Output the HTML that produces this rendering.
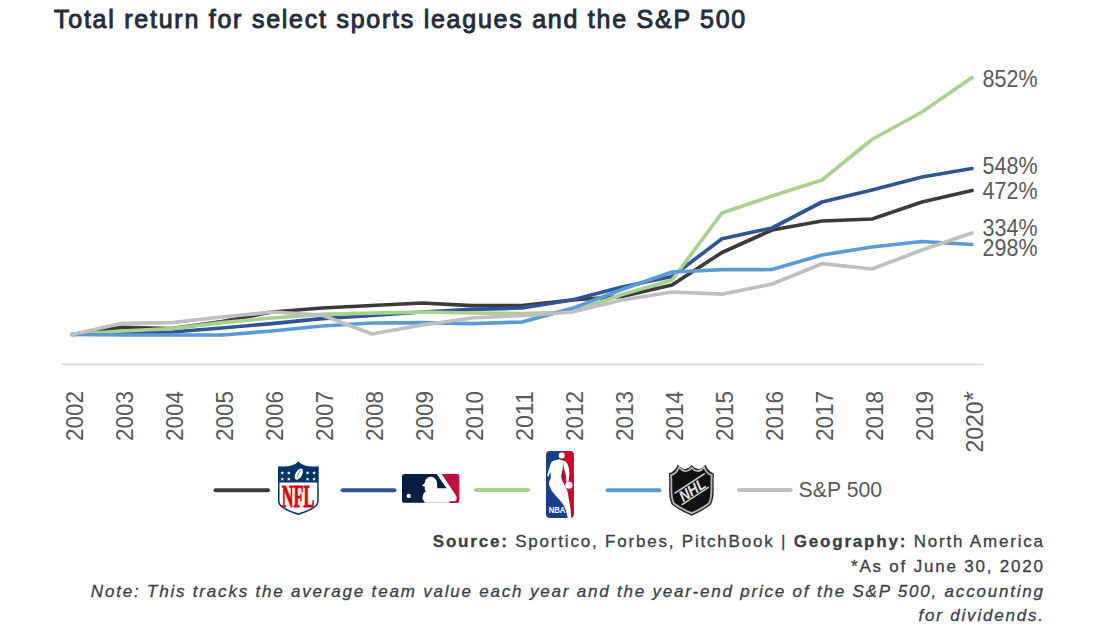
<!DOCTYPE html>
<html><head><meta charset="utf-8"><style>
html,body{margin:0;padding:0;background:#fff;}
body{width:1115px;height:630px;position:relative;overflow:hidden;font-family:"Liberation Sans",sans-serif;}
.title{position:absolute;left:54px;top:4.5px;font-size:25px;font-weight:normal;-webkit-text-stroke:0.95px #252d3b;color:#252d3b;white-space:nowrap;letter-spacing:1.75px;}
.foot{position:absolute;right:70.2px;font-size:17px;color:#3a3f48;-webkit-text-stroke:0.3px #3a3f48;white-space:nowrap;text-align:right;letter-spacing:1.8px;}
svg{position:absolute;left:0;top:0;}
</style></head><body>
<div class="title">Total return for select sports leagues and the S&amp;P 500</div>
<svg width="1115" height="630" viewBox="0 0 1115 630">
<line x1="62" y1="364.4" x2="983.5" y2="364.4" stroke="#d9d9d9" stroke-width="1.6"/>
<g fill="none" stroke-width="3.7" stroke-linejoin="round" stroke-linecap="round">
<polyline points="72,334.5 122,327.4 172,328.5 222,321.5 272,312 322,308 372,305.5 422,303 472,305.7 522,305.7 572,300 622,296.5 672,285 722,252.5 772,230 822,221 872,219 922,202 972,190.5" stroke="#3b3b3b"/>
<polyline points="72,334.5 122,333 172,332 222,328 272,323.6 322,318.6 372,315.5 422,312 472,309.3 522,308 572,300 622,287 672,276.5 722,238.7 772,228 822,202 872,190 922,177 972,168.5" stroke="#2f5597"/>
<polyline points="72,334.5 122,331 172,328.6 222,322.7 272,318 322,314.4 372,313.2 422,312 472,313 522,313.5 572,312 622,294.5 672,280 722,213 772,196 822,180 872,139.5 922,112 972,77.5" stroke="#a9d18e"/>
<polyline points="72,334.5 122,335 172,335 222,335 272,331 322,326 372,323 422,322.7 472,323.7 522,322 572,308.4 622,289.5 672,272 722,269.7 772,269.5 822,255 872,247 922,241.5 972,244.5" stroke="#5b9bd5"/>
<polyline points="72,334.5 122,323.3 172,322.7 222,317 272,312 322,315 372,334 422,325 472,318 522,315.6 572,312 622,300 672,292 722,294.2 772,284 822,263.7 872,269 922,250 972,233" stroke="#bfbfbf"/>
</g>
<g font-family="Liberation Sans" font-size="23" fill="#595959">
<text x="982.5" y="86.6" textLength="55" lengthAdjust="spacingAndGlyphs">852%</text>
<text x="982.5" y="174.4" textLength="55" lengthAdjust="spacingAndGlyphs">548%</text>
<text x="982.5" y="199.1" textLength="55" lengthAdjust="spacingAndGlyphs">472%</text>
<text x="982.5" y="235.7" textLength="55" lengthAdjust="spacingAndGlyphs">334%</text>
<text x="982.5" y="256.3" textLength="55" lengthAdjust="spacingAndGlyphs">298%</text>
<text transform="translate(82.8,391) rotate(-90)" text-anchor="end" textLength="50" lengthAdjust="spacingAndGlyphs">2002</text><text transform="translate(132.8,391) rotate(-90)" text-anchor="end" textLength="50" lengthAdjust="spacingAndGlyphs">2003</text><text transform="translate(182.8,391) rotate(-90)" text-anchor="end" textLength="50" lengthAdjust="spacingAndGlyphs">2004</text><text transform="translate(232.8,391) rotate(-90)" text-anchor="end" textLength="50" lengthAdjust="spacingAndGlyphs">2005</text><text transform="translate(282.8,391) rotate(-90)" text-anchor="end" textLength="50" lengthAdjust="spacingAndGlyphs">2006</text><text transform="translate(332.8,391) rotate(-90)" text-anchor="end" textLength="50" lengthAdjust="spacingAndGlyphs">2007</text><text transform="translate(382.8,391) rotate(-90)" text-anchor="end" textLength="50" lengthAdjust="spacingAndGlyphs">2008</text><text transform="translate(432.8,391) rotate(-90)" text-anchor="end" textLength="50" lengthAdjust="spacingAndGlyphs">2009</text><text transform="translate(482.8,391) rotate(-90)" text-anchor="end" textLength="50" lengthAdjust="spacingAndGlyphs">2010</text><text transform="translate(532.8,391) rotate(-90)" text-anchor="end" textLength="50" lengthAdjust="spacingAndGlyphs">2011</text><text transform="translate(582.8,391) rotate(-90)" text-anchor="end" textLength="50" lengthAdjust="spacingAndGlyphs">2012</text><text transform="translate(632.8,391) rotate(-90)" text-anchor="end" textLength="50" lengthAdjust="spacingAndGlyphs">2013</text><text transform="translate(682.8,391) rotate(-90)" text-anchor="end" textLength="50" lengthAdjust="spacingAndGlyphs">2014</text><text transform="translate(732.8,391) rotate(-90)" text-anchor="end" textLength="50" lengthAdjust="spacingAndGlyphs">2015</text><text transform="translate(782.8,391) rotate(-90)" text-anchor="end" textLength="50" lengthAdjust="spacingAndGlyphs">2016</text><text transform="translate(832.8,391) rotate(-90)" text-anchor="end" textLength="50" lengthAdjust="spacingAndGlyphs">2017</text><text transform="translate(882.8,391) rotate(-90)" text-anchor="end" textLength="50" lengthAdjust="spacingAndGlyphs">2018</text><text transform="translate(932.8,391) rotate(-90)" text-anchor="end" textLength="50" lengthAdjust="spacingAndGlyphs">2019</text><text transform="translate(982.8,452.5) rotate(-90)">2020<tspan font-size="26" dy="-1">*</tspan></text>
<text x="798.6" y="496.8" font-size="22" textLength="83.5" lengthAdjust="spacingAndGlyphs">S&amp;P 500</text>
</g>
<g stroke-width="4" stroke-linecap="round">
<line x1="215.5" y1="490.2" x2="268" y2="490.2" stroke="#3b3b3b"/>
<line x1="342.5" y1="490.2" x2="394.5" y2="490.2" stroke="#2f5597"/>
<line x1="476" y1="490" x2="528" y2="490" stroke="#a9d18e"/>
<line x1="607.5" y1="490.2" x2="659.5" y2="490.2" stroke="#5b9bd5"/>
<line x1="739" y1="490" x2="790.5" y2="490" stroke="#bfbfbf"/>
</g>
<!--LOGOS-->
<defs>
<path id="nhlS" d="M0,8.8 Q6,7.5 9,0 Q16,8.5 22.9,0.7 Q29.8,8.5 36.7,0 Q39.5,7.5 45.2,8.8 C43.8,20 46.8,31 42.2,40 Q34,46.5 22.9,51.1 Q11.5,46.5 3,40 C-1.6,31 1.4,20 0,8.8 Z"/>
<clipPath id="nhlC"><use href="#nhlS" transform="translate(22.6,25.5) scale(0.8) translate(-22.6,-25.5)"/></clipPath>
</defs>
<!-- NFL -->
<g transform="translate(278,461.5)">
<path d="M0,4.7 Q14,6.5 20.3,0 Q26.6,6.5 40.7,4.7 L40.7,40 Q40.5,47.5 20.3,53.5 Q0.2,47.5 0,40 Z" fill="#013369"/>
<path d="M1.5,21 H39.2 V39.8 Q39,46.3 20.3,51.8 Q1.7,46.3 1.5,39.8 Z" fill="#ffffff"/>
<g fill="#ffffff"><polygon points="4.30,9.50 4.83,10.77 6.20,10.88 5.16,11.78 5.48,13.12 4.30,12.40 3.12,13.12 3.44,11.78 2.40,10.88 3.77,10.77"/><polygon points="4.30,15.70 4.83,16.97 6.20,17.08 5.16,17.98 5.48,19.32 4.30,18.60 3.12,19.32 3.44,17.98 2.40,17.08 3.77,16.97"/><polygon points="10.80,9.50 11.33,10.77 12.70,10.88 11.66,11.78 11.98,13.12 10.80,12.40 9.62,13.12 9.94,11.78 8.90,10.88 10.27,10.77"/><polygon points="10.80,15.70 11.33,16.97 12.70,17.08 11.66,17.98 11.98,19.32 10.80,18.60 9.62,19.32 9.94,17.98 8.90,17.08 10.27,16.97"/><polygon points="29.60,9.50 30.13,10.77 31.50,10.88 30.46,11.78 30.78,13.12 29.60,12.40 28.42,13.12 28.74,11.78 27.70,10.88 29.07,10.77"/><polygon points="29.60,15.70 30.13,16.97 31.50,17.08 30.46,17.98 30.78,19.32 29.60,18.60 28.42,19.32 28.74,17.98 27.70,17.08 29.07,16.97"/><polygon points="36.10,9.50 36.63,10.77 38.00,10.88 36.96,11.78 37.28,13.12 36.10,12.40 34.92,13.12 35.24,11.78 34.20,10.88 35.57,10.77"/><polygon points="36.10,15.70 36.63,16.97 38.00,17.08 36.96,17.98 37.28,19.32 36.10,18.60 34.92,19.32 35.24,17.98 34.20,17.08 35.57,16.97"/>
<ellipse cx="20.8" cy="12.6" rx="3.2" ry="6.2" transform="rotate(30 20.8 12.6)"/>
</g>
<path d="M19.2,16.2 Q20.2,12 22.6,8.6" fill="none" stroke="#013369" stroke-width="0.6"/>
<text x="3.7" y="45.3" font-family="Liberation Serif" font-weight="bold" font-size="31" fill="#d50a0a" stroke="#d50a0a" stroke-width="1.1" textLength="32.6" lengthAdjust="spacingAndGlyphs">NFL</text>
</g>
<!-- MLB -->
<g transform="translate(402,474)">
<rect width="57.2" height="28.8" rx="2.6" fill="#041e42"/>
<path d="M39.7,0 H54.6 Q57.2,0 57.2,2.6 V26.2 Q57.2,28.8 54.6,28.8 H45 V14 H48.5 Z" fill="#bf0d3e"/>
<path d="M23,28.8 L20.3,24.5 L21.3,20 L23.8,17 L22.5,15.3 L23.2,13.6 L20,11.2 L22.6,9.6 L23.5,5.8 Q25.8,2.6 29,2.7 Q33.6,3.4 35,8 L35.3,14.3 L44.7,14.3 L34.6,0 L39.7,0 L53.3,20.6 Q56,24.2 53.6,27 L47.5,27.3 L47.5,28.8 Z" fill="#ffffff"/>
<circle cx="6.7" cy="21.9" r="2.2" fill="#ffffff"/>
</g>
<!-- NBA -->
<g transform="translate(546,451.1)">
<rect width="27.7" height="66.8" rx="4" fill="#17408b"/>
<path d="M16.5,0 H23.7 Q27.7,0 27.7,4 V62.8 Q27.7,66.8 23.7,66.8 H22 L20,45 L16.5,30 Z" fill="#c9082a"/>
<g fill="#ffffff">
<circle cx="15.7" cy="4.4" r="3"/>
<path d="M13.3,8.2 L7.5,9.6 Q5,10.3 4.6,13 L1.2,23.8 Q1,25.6 2.4,25.4 L4.6,21 L4.8,27.5 Q2,31 3.5,35 Q5,40 10,45 Q17,52 19.5,58 L21.8,66.8 L25.3,66.8 L24.3,56 Q22.5,46 21.5,40 L18,33 Q15,29 15.2,25 L16.3,19 Q17.5,12 16.9,9.4 Z"/>
<path d="M16.9,9.4 L19.5,10.4 Q23,13 23.5,22.6 L22.6,30 L20.5,31 L19.9,24 L17.8,17 Z"/>
<circle cx="22.9" cy="34.1" r="3.6"/>
</g>
<text x="2.7" y="62.4" font-family="Liberation Sans" font-weight="bold" font-size="9" fill="#ffffff" textLength="16.6" lengthAdjust="spacingAndGlyphs">NBA</text>
</g>
<!-- NHL -->
<g transform="translate(668.8,464.6)">
<use href="#nhlS" fill="#262626"/>
<use href="#nhlS" transform="translate(22.6,26) scale(0.9) translate(-22.6,-26)" fill="#111111" stroke="#b4b4b4" stroke-width="2"/>
<g clip-path="url(#nhlC)">
<path d="M5.7,28.8 L36.2,8.8" stroke="#d8d8d8" stroke-width="1.4"/>
<path d="M12.9,40.2 L40,22.6" stroke="#d8d8d8" stroke-width="1.4"/>
</g>
<text transform="translate(14.4,37.6) rotate(-33)" font-family="Liberation Sans" font-weight="bold" font-style="italic" font-size="15.5" fill="#e6e6e6" textLength="28.5" lengthAdjust="spacingAndGlyphs">NHL</text>
</g>
<!--/LOGOS-->
</svg>
<div class="foot" style="top:532px"><b>Source:</b> Sportico, Forbes, PitchBook | <b>Geography:</b> North America</div>
<div class="foot" style="top:557px">*As of June 30, 2020</div>
<div class="foot" style="top:582px;font-style:italic">Note: This tracks the average team value each year and the year-end price of the S&amp;P 500, accounting</div>
<div class="foot" style="top:606px;font-style:italic">for dividends.</div>
</body></html>
